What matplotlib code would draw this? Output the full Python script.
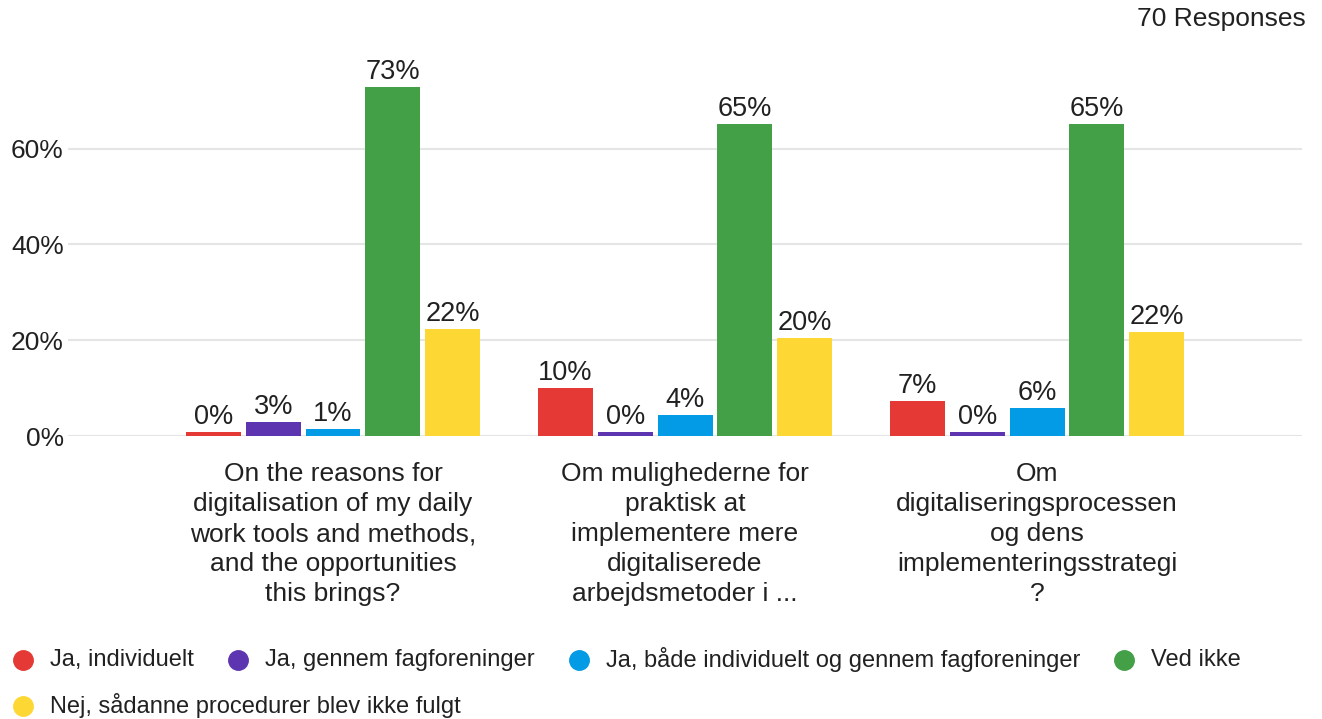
import matplotlib
matplotlib.use('Agg')
import matplotlib.pyplot as plt
from matplotlib.lines import Line2D
import numpy as np

plt.rcParams['font.family'] = ['Liberation Sans', 'DejaVu Sans']

# data
categories = [
    "On the reasons for\ndigitalisation of my daily\nwork tools and methods,\nand the opportunities\nthis brings?",
    "Om mulighederne for\npraktisk at\nimplementere mere\ndigitaliserede\narbejdsmetoder i ...",
    "Om\ndigitaliseringsprocessen\nog dens\nimplementeringsstrategi\n?",
]
series_names = [
    "Ja, individuelt",
    "Ja, gennem fagforeninger",
    "Ja, både individuelt og gennem fagforeninger",
    "Ved ikke",
    "Nej, sådanne procedurer blev ikke fulgt",
]
ja_individuelt = [0.0, 10.0, 7.3]
ja_fagforeninger = [2.9, 0.0, 0.0]
ja_begge = [1.4, 4.4, 5.9]
ved_ikke = [72.9, 65.2, 65.2]
nej = [22.4, 20.4, 21.7]
colors = ["#e53935", "#5e35b1", "#039be5", "#43a047", "#fdd835"]
responses_label = "70 Responses"

series = [ja_individuelt, ja_fagforeninger, ja_begge, ved_ikke, nej]
text_color = "#212121"

fig = plt.figure(figsize=(13.22, 7.19), dpi=100)
ax = fig.add_axes([0.0514, 0.3936, 0.9336, 0.5063])

x = np.arange(len(categories))
step = 0.17
width = 0.156
min_h = 0.8  # zero values still drawn as a thin bar
for i, (vals, col) in enumerate(zip(series, colors)):
    pos = x + (i - 2) * step
    heights = [max(v, min_h) for v in vals]
    ax.bar(pos, heights, width=width, color=col, zorder=3)
    for p, v, h in zip(pos, vals, heights):
        ax.annotate(f"{round(v)}%", (p, h), xytext=(0, 1.5), textcoords="offset points",
                    ha="center", va="bottom", fontsize=19.5, color=text_color)

ax.set_xlim(-0.753, 2.753)
ax.set_ylim(0, 76)
ax.set_yticks([0, 20, 40, 60])
ax.set_yticklabels([f"{t}%" for t in [0, 20, 40, 60]], fontsize=19, color=text_color)
ax.set_xticks(x)
ax.set_xticklabels(categories, fontsize=19, color=text_color, linespacing=1.31)
ax.tick_params(axis='both', length=0)
ax.tick_params(axis='x', pad=19)
ax.tick_params(axis='y', pad=3)
ax.grid(axis='y', color='#e5e5e5', linewidth=1.5, zorder=0)
for s in ax.spines.values():
    s.set_visible(False)

fig.text(1306 / 1322, 1 - 19 / 719, responses_label, ha="right", va="center",
         fontsize=19, color=text_color)

# flow legend
fig.canvas.draw()
renderer = fig.canvas.get_renderer()
W, H = fig.bbox.width, fig.bbox.height
lx = 23
row_y = [660, 706]
row = 0
for name, col in zip(series_names, colors):
    t = fig.text(0, 0, name, fontsize=17, color=text_color, va="center", ha="left")
    tw = t.get_window_extent(renderer).width
    if lx + 27 + tw > 1302:
        row += 1
        lx = 23
    ly = 1 - row_y[row] / H
    fig.add_artist(Line2D([lx / W], [ly], marker='o', markersize=14, color=col,
                          linestyle='none', transform=fig.transFigure))
    t.set_position(((lx + 27) / W, ly))
    lx = lx + 27 + tw + 44

fig.savefig("out.png", dpi=100)
